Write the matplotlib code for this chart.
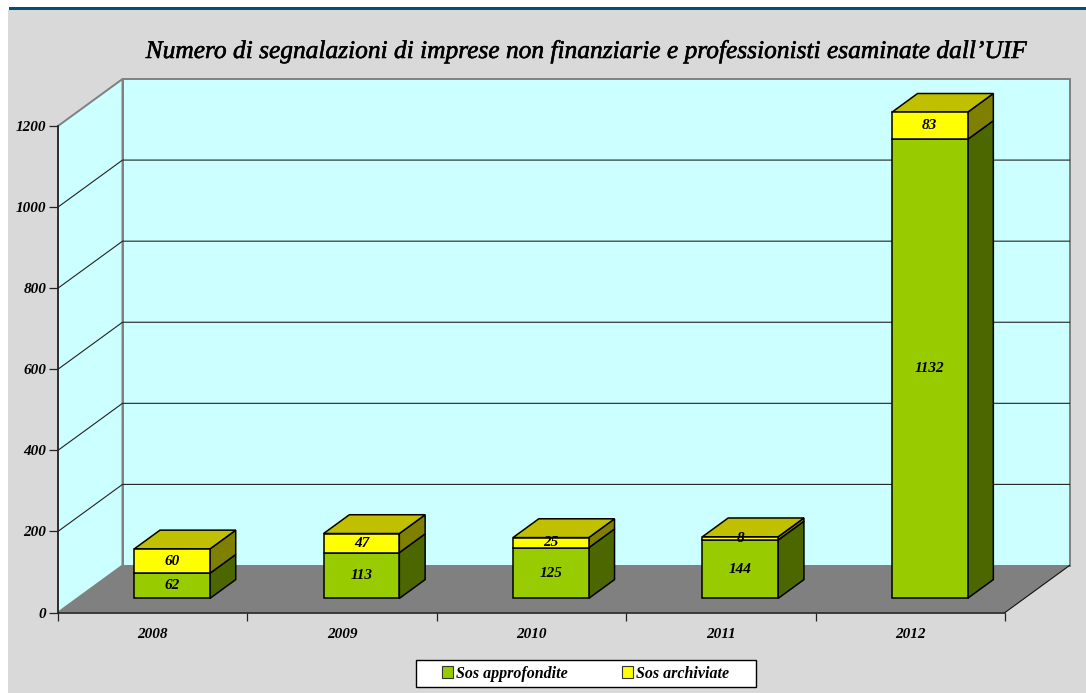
import matplotlib
matplotlib.use('Agg')
import matplotlib.pyplot as plt
import matplotlib.patheffects as pe
from matplotlib.patches import Polygon, Rectangle, Patch

# Values
anni = ['2008', '2009', '2010', '2011', '2012']
approfondite = [62, 113, 125, 144, 1132]
archiviate = [60, 47, 25, 8, 83]
# the 2012 yellow block is drawn shorter than its label says, keep both
archiviate_altezza = [60, 47, 25, 8, 67]
y_ticks = [0, 200, 400, 600, 800, 1000, 1200]
titolo = 'Numero di segnalazioni di imprese non finanziarie e professionisti esaminate dall’UIF'

W, H = 1086, 693
FONT = 'Liberation Serif'
plt.rcParams['font.family'] = FONT
plt.rcParams['font.style'] = 'italic'

fig = plt.figure(figsize=(W / 100, H / 100), dpi=100, facecolor='white')

# page background and the blue band on top
fig.add_artist(Rectangle((8 / W, 0), 1, 1 - 10 / H, transform=fig.transFigure, color='#D9D9D9', lw=0, zorder=-5))
fig.add_artist(Rectangle((9 / W, 1 - 10 / H), 1, 3 / H, transform=fig.transFigure, color='#005078', lw=0, zorder=-5))

# the axes is the front plane of the 3D box
x0, x1, y0, y1 = 58, 1005, 612.5, 126
ax = fig.add_axes([x0 / W, 1 - y0 / H, (x1 - x0) / W, (y0 - y1) / H])
ax.set_xlim(0, 5)
ax.set_ylim(0, 1200)
ax.patch.set_alpha(0)

# one full unit of depth, in data units
dx = 64.5 / (x1 - x0) * 5
dy = 47 / (y0 - y1) * 1200


def pr(x, y, d):
    return (x + d * dx, y + d * dy)


def face(pts, color, edge, lw, z):
    ax.add_patch(Polygon(pts, closed=True, facecolor=color, edgecolor=edge, lw=lw,
                         zorder=z, clip_on=False, joinstyle='miter'))


# walls and floor
face([pr(0, 0, 1), pr(5, 0, 1), pr(5, 1200, 1), pr(0, 1200, 1)], '#CCFFFF', '#808080', 1.4, 1)
face([pr(0, 0, 0), pr(0, 0, 1), pr(0, 1200, 1), pr(0, 1200, 0)], '#CCFFFF', '#808080', 1.4, 1)
face([pr(0, 0, 0), pr(5, 0, 0), pr(5, 0, 1), pr(0, 0, 1)], '#808080', 'none', 0, 1.5)

# gridlines
for v in y_ticks[1:-1]:
    gx = [pr(0, v, 0)[0], pr(0, v, 1)[0], pr(5, v, 1)[0]]
    gy = [pr(0, v, 0)[1], pr(0, v, 1)[1], pr(5, v, 1)[1]]
    ax.plot(gx, gy, color='#222222', lw=0.8, zorder=2, clip_on=False)
# right floor edge
ax.plot(*zip(pr(5, 0, 0), pr(5, 0, 1)), color='#111111', lw=0.8, zorder=2, clip_on=False)


def box(xl, xr, b, t, front, side, top=None):
    d0, d1 = 0.3, 0.7
    face([pr(xr, b, d0), pr(xr, b, d1), pr(xr, t, d1), pr(xr, t, d0)], side, 'black', 1.1, 5)
    face([pr(xl, b, d0), pr(xr, b, d0), pr(xr, t, d0), pr(xl, t, d0)], front, 'black', 1.1, 6)
    if top:
        face([pr(xl, t, d0), pr(xr, t, d0), pr(xr, t, d1), pr(xl, t, d1)], top, 'black', 1.1, 5)


for i in range(len(anni)):
    xl, xr = i + 0.3, i + 0.7
    a, b = approfondite[i], archiviate_altezza[i]
    box(xl, xr, 0, a, '#99CC00', '#4C6600')
    box(xl, xr, a, a + b, '#FFFF00', '#808000', '#C0C000')
    xc = pr(i + 0.5, 0, 0.3)[0]
    ax.text(xc, pr(0, a / 2, 0.3)[1], str(a), ha='center', va='center', fontsize=11,
            fontweight='bold', zorder=8, clip_on=False)
    ax.text(xc, pr(0, a + b / 2, 0.3)[1], str(archiviate[i]), ha='center', va='center', fontsize=11,
            fontweight='bold', zorder=8, clip_on=False)

# axes, ticks, labels
for s in ['top', 'right']:
    ax.spines[s].set_visible(False)
for s in ['left', 'bottom']:
    ax.spines[s].set_color('#222222')
    ax.spines[s].set_linewidth(1.2)
    ax.spines[s].set_zorder(3)
ax.set_yticks(y_ticks)
ax.set_yticklabels([str(v) for v in y_ticks], fontsize=11, fontweight='bold')
ax.tick_params(axis='y', length=6.5, width=0.9, color='#222222', pad=2)
ax.set_xticks(range(6))
ax.set_xticklabels([''] * 6)
ax.tick_params(axis='x', which='major', length=6, width=0.9, color='#222222')
ax.set_xticks([i + 0.5 for i in range(5)], minor=True)
ax.set_xticklabels(anni, minor=True, fontsize=11, fontweight='bold')
ax.tick_params(axis='x', which='minor', length=0, pad=11)

t = fig.text(586 / W, 1 - 51.5 / H, titolo, ha='center', va='center', fontsize=18.3)
t.set_path_effects([pe.withStroke(linewidth=0.4, foreground='black')])

# legend: frame drawn apart, its width does not follow the entries
fig.add_artist(Rectangle((415.5 / W, 1 - 687 / H), 340 / W, 27 / H, transform=fig.transFigure,
                         facecolor='white', edgecolor='black', lw=1, zorder=4))
handles = [Patch(facecolor='#99CC00', edgecolor='#333333', lw=0.8, label='Sos approfondite'),
           Patch(facecolor='#FFFF00', edgecolor='#333333', lw=0.8, label='Sos archiviate')]
leg = fig.legend(handles=handles, ncol=2, loc='center', bbox_to_anchor=(585.5 / W, 1 - 673.5 / H),
                 frameon=False, fontsize=11.5, handlelength=0.7, handleheight=0.7, handletextpad=0.18,
                 columnspacing=3.4, borderpad=0, borderaxespad=0)
leg.set_zorder(5)
for tx in leg.get_texts():
    tx.set_fontweight('bold')

fig.savefig('out.png', dpi=100)
